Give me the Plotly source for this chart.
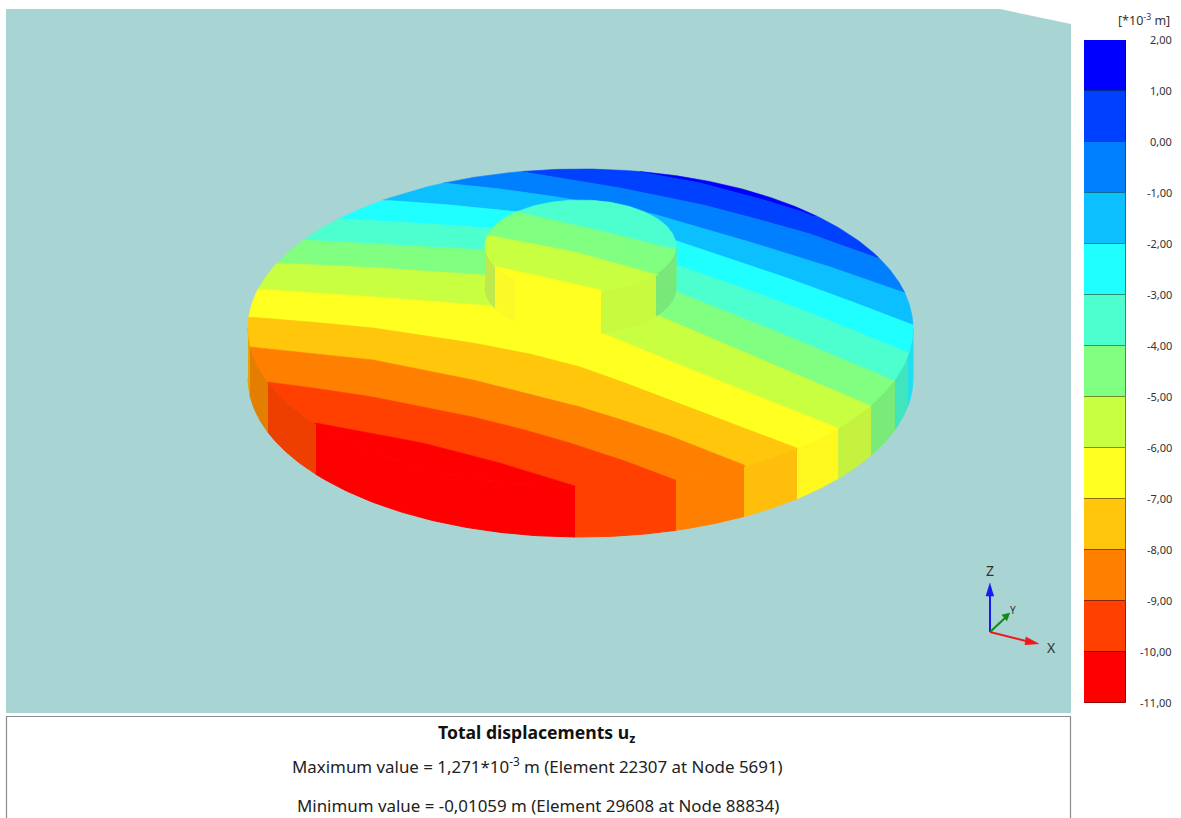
import math
import plotly.graph_objects as go

# ---------- colour scale (uz, in 10^-3 m) ----------
levels = [2, 1, 0, -1, -2, -3, -4, -5, -6, -7, -8, -9, -10, -11]
level_labels = ["2,00", "1,00", "0,00", "-1,00", "-2,00", "-3,00", "-4,00",
                "-5,00", "-6,00", "-7,00", "-8,00", "-9,00", "-10,00", "-11,00"]
band_colors = ["#0000FF", "#0040FF", "#0080FF", "#0CBFFF", "#20FFFF", "#4DFFCF", "#80FF80",
               "#C8FF40", "#FFFF20", "#FFC60C", "#FF8000", "#FF4000", "#FF0000"]
band_edges = ["#00008C", "#002C90", "#00508C", "#0A6E90", "#188C8C", "#2E8C72", "#4E8C4E",
              "#708C26", "#8C8C14", "#8C6E08", "#8C4800", "#8C2400", "#8C0000"]

# ---------- contour lines: one per level, (x, y) on screen ----------
contour_1 = [(640, 172), (700, 183), (760, 199), (800, 211), (815, 217)]
contour_0 = [(523, 172), (570, 180), (620, 188), (703, 205), (760, 220), (810, 234), (877, 258)]
contour_m1 = [(443, 183), (500, 189), (557, 197), (653, 214), (753, 243), (830, 267), (905, 293)]
contour_m2 = [(383, 200), (450, 205), (520, 212), (600, 225), (677, 241), (787, 278), (850, 301), (913, 325)]
contour_m3 = [(340, 219), (415, 223), (490, 228), (580, 244), (677, 265), (787, 304), (850, 329), (908, 353)]
contour_m4 = [(303, 240), (395, 245), (485, 250), (580, 268), (677, 292), (780, 333), (840, 358), (895, 381)]
contour_m5 = [(277, 263), (380, 268), (485, 275), (570, 291), (657, 315), (720, 342), (780, 367), (871, 406)]
contour_m6 = [(258, 289), (375, 297), (493, 306), (550, 318), (602, 333), (690, 369), (780, 405), (838, 428)]
contour_m7 = [(248, 317), (310, 322), (373, 328), (473, 343), (530, 354), (580, 367), (625, 383),
              (670, 400), (735, 425), (797, 448)]
contour_m8 = [(250, 347), (310, 353), (373, 360), (473, 380), (530, 394), (580, 407), (625, 421),
              (670, 436), (744, 465)]
contour_m9 = [(268, 382), (320, 389), (373, 397), (473, 417), (525, 430), (570, 443), (625, 461), (676, 480)]
contour_m10 = [(316, 423), (370, 433), (423, 443), (500, 463), (575, 486)]
disc_contours = [contour_1, contour_0, contour_m1, contour_m2, contour_m3, contour_m4,
                 contour_m5, contour_m6, contour_m7, contour_m8, contour_m9, contour_m10]

cap_contour_m4 = [(517, 212), (597, 230), (673, 249)]
cap_contour_m5 = [(487, 235), (575, 252), (658, 275)]
cap_contour_m6 = [(495, 266), (601, 290)]
cap_contours = [cap_contour_m4, cap_contour_m5, cap_contour_m6]
cap_colors = ["#4DFFCF", "#80FF80", "#C8FF40", "#FFFF20"]

# wall colour stripes: x-start, x-end, colour
disc_wall_x = [248, 250, 268, 316, 575, 676, 744, 797, 838, 871, 895, 908, 913]
disc_wall_colors = ["#E0A800", "#E47E00", "#EC3F00", "#FF0000", "#FF4000", "#FF8000", "#FFBE0C",
                    "#FFF81E", "#C4F23E", "#78EB78", "#40E5BE", "#20E0F0"]
cap_wall_x = [485, 495, 515, 601, 656, 676]
cap_wall_colors = ["#BFE94C", "#FBF928", "#FFFF20", "#C8FA40", "#78E878"]

DISC = dict(cx=580.5, cy=328.0, a=332.5, b=159.0, h=50.0)
CAP = dict(cx=580.5, cy=246.0, a=95.5, b=46.0, h=42.0)


def arc(e, t0, t1, n=80, dy=0.0):
    return [(e["cx"] + e["a"] * math.cos(t0 + (t1 - t0) * i / n),
             e["cy"] + dy + e["b"] * math.sin(t0 + (t1 - t0) * i / n)) for i in range(n + 1)]


def right_angle(e, p):
    return math.atan2((p[1] - e["cy"]) / e["b"], (p[0] - e["cx"]) / e["a"])


def left_angle(e, p):
    return math.atan2((p[1] - e["cy"]) / e["b"], (p[0] - e["cx"]) / e["a"]) % (2 * math.pi)


def bands(e, lines):
    """Closed, non-overlapping regions of an ellipse cut by left-to-right contour lines."""
    tr = [right_angle(e, l[-1]) for l in lines]
    tl = [left_angle(e, l[0]) for l in lines]
    out = [lines[0][::-1] + arc(e, tl[0], tr[0] + 2 * math.pi)]
    for k in range(1, len(lines)):
        out.append(lines[k - 1] + arc(e, tr[k - 1], tr[k], 30) + lines[k][::-1] + arc(e, tl[k], tl[k - 1], 30))
    out.append(lines[-1] + arc(e, tr[-1], tl[-1]))
    return out


def wall(e, xa, xb):
    ta = math.acos(max(-1, min(1, (xa - e["cx"]) / e["a"])))
    tb = math.acos(max(-1, min(1, (xb - e["cx"]) / e["a"])))
    return arc(e, ta, tb, 50) + arc(e, tb, ta, 50, e["h"])


def poly(points, color, lw=0.6):
    return go.Scatter(x=[p[0] for p in points], y=[p[1] for p in points], mode="lines",
                      fill="toself", fillcolor=color, line=dict(color=color, width=lw),
                      hoverinfo="skip", showlegend=False, xaxis="x", yaxis="y")


def stroke(points, color, w):
    return go.Scatter(x=[p[0] for p in points], y=[p[1] for p in points], mode="lines",
                      line=dict(color=color, width=w), hoverinfo="skip", showlegend=False,
                      xaxis="x", yaxis="y")


fig = go.Figure()
fig.add_trace(poly([(6, 9), (1000, 9), (1071, 24), (1071, 713), (6, 713)], "#A8D4D4", 0))

for i, c in enumerate(disc_wall_colors):
    fig.add_trace(poly(wall(DISC, disc_wall_x[i], disc_wall_x[i + 1]), c, 1))
for pts, c in zip(bands(DISC, disc_contours), band_colors):
    fig.add_trace(poly(pts, c))

for i, c in enumerate(cap_wall_colors):
    fig.add_trace(poly(wall(CAP, cap_wall_x[i], cap_wall_x[i + 1]), c, 1))
for pts, c in zip(bands(CAP, cap_contours), cap_colors):
    fig.add_trace(poly(pts, c))

# axis triad
fig.add_trace(stroke([(990, 632), (990, 592)], "#1A1AF0", 2))
fig.add_trace(poly([(990, 583), (986, 596), (994, 596)], "#1A1AF0"))
fig.add_trace(stroke([(990, 632), (1005, 618)], "#128A12", 2))
fig.add_trace(poly([(1010, 613), (1002, 615), (1007, 621)], "#128A12"))
fig.add_trace(stroke([(990, 632), (1030, 642)], "#F01818", 2))
fig.add_trace(poly([(1039, 644), (1026, 637), (1025, 645)], "#F01818"))

# colour bar
fig.add_trace(go.Bar(x=[0] * len(band_colors), y=[levels[i] - levels[i + 1] for i in range(len(band_colors))],
                     base=levels[1:], width=1, marker=dict(color=band_colors, line=dict(color=band_edges, width=1)),
                     hoverinfo="skip", showlegend=False, xaxis="x2", yaxis="y2"))

W, H = 1181, 818
FONT = "Noto Sans"
ann = []
for v, t in zip(levels, level_labels):
    ann.append(dict(x=1174, xref="x", y=v, yref="y2", text=t, showarrow=False, xanchor="right", yshift=1,
                    yanchor="middle", font=dict(family=FONT, size=11, color="#333333")))
ann.append(dict(x=1144, xref="x", y=20, yref="y", text="[*10<sup>-3</sup> m]", showarrow=False,
                font=dict(family=FONT, size=12.5, color="#333333")))
for x, y, t, s in [(990, 570, "Z", 14), (1013, 610, "Y", 10), (1051, 647, "X", 14)]:
    ann.append(dict(x=x, xref="x", y=y, yref="y", text=t, showarrow=False,
                    font=dict(family=FONT, size=s, color="#333333")))
ann.append(dict(x=536, xref="x", y=733, yref="y", text="<b>Total displacements u<sub>z</sub></b>", showarrow=False,
                font=dict(family=FONT, size=17.6, color="#111111")))
ann.append(dict(x=537, xref="x", y=765, yref="y",
                text="Maximum value = 1,271*10<sup>-3</sup> m (Element 22307 at Node 5691)", showarrow=False,
                font=dict(family=FONT, size=16.9, color="#222222")))
ann.append(dict(x=538, xref="x", y=805, yref="y",
                text="Minimum value = -0,01059 m (Element 29608 at Node 88834)", showarrow=False,
                font=dict(family=FONT, size=16.9, color="#222222")))

fig.update_layout(
    width=W, height=H, margin=dict(l=0, r=0, t=0, b=0), paper_bgcolor="white", plot_bgcolor="rgba(0,0,0,0)",
    showlegend=False, bargap=0, annotations=ann,
    xaxis=dict(domain=[0, 1], range=[0, W], visible=False, fixedrange=True),
    yaxis=dict(domain=[0, 1], range=[H, 0], visible=False, fixedrange=True),
    xaxis2=dict(domain=[1084 / W, 1126 / W], range=[-0.5, 0.5], visible=False, anchor="y2", fixedrange=True),
    yaxis2=dict(domain=[(H - 703) / H, (H - 40) / H], range=[-11, 2], visible=False, anchor="x2", fixedrange=True),
    shapes=[dict(type="rect", xref="x", yref="y", x0=6.5, x1=1070.5, y0=716.5, y1=830,
                 line=dict(color="#8C8C8C", width=1.2), fillcolor="white", layer="below")],
)
fig.write_html("out.html", config=dict(displayModeBar=False),
               post_script="document.body.style.margin='0';document.body.style.overflow='hidden';")
